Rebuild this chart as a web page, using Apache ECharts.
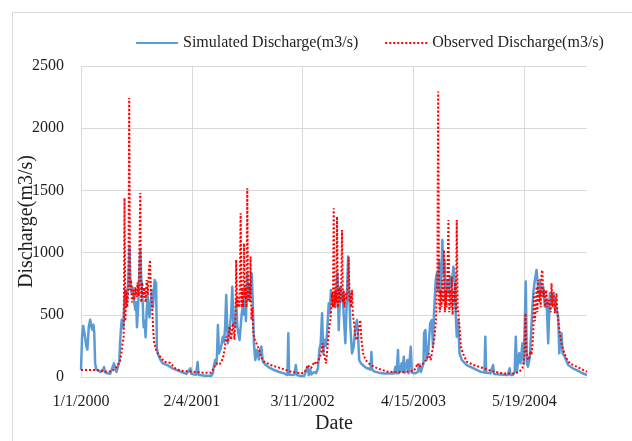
<!DOCTYPE html>
<html>
<head>
<meta charset="utf-8">
<script src="https://cdn.jsdelivr.net/npm/echarts@6/dist/echarts.min.js"></script>
<style>
html,body{margin:0;padding:0;background:#fff;}
#chart{width:632px;height:441px;}
</style>
</head>
<body>
<div id="chart"></div>
<script>
// x tick labels (every 400 days from 1/1/2000)
var xTickLabels = ['1/1/2000', '2/4/2001', '3/11/2002', '4/15/2003', '5/19/2004'];
var yTickLabels = ['0', '500', '1000', '1500', '2000', '2500'];
var seriesNames = ['Simulated Discharge(m3/s)', 'Observed Discharge(m3/s)'];

// Simulated discharge: day offset from 1/1/2000 and value (m3/s)
var simDays = [0,4,8,14,19,23,28,33,38,41,45,48,51,55,60,70,80,83,86,95,105,112,116,119,123,128,134,138,141,144,147,150,153,156,159,162,165,168,171,175,178,182,187,191,196,199,202,206,209,214,217,220,223,226,230,233,237,240,244,247,251,256,260,263,266,269,271,274,280,286,295,310,330,359,380,395,398,415,421,424,446,470,476,479,484,488,491,494,498,502,506,510,512,516,520,524,527,530,535,538,542,546,550,554,557,560,564,568,572,576,580,585,588,591,595,600,604,608,612,616,620,624,629,634,638,642,646,651,656,667,680,697,715,733,745,748,751,760,770,775,779,793,805,812,818,822,827,832,840,848,855,860,865,870,874,879,884,888,894,898,902,906,910,914,918,922,926,930,936,940,944,948,954,958,964,968,972,978,984,990,996,1000,1004,1010,1015,1025,1033,1040,1045,1048,1051,1060,1075,1093,1110,1129,1135,1139,1144,1147,1152,1157,1160,1165,1168,1178,1182,1190,1194,1205,1215,1222,1226,1236,1238,1243,1247,1253,1260,1266,1270,1274,1280,1284,1288,1292,1296,1300,1304,1308,1312,1316,1322,1328,1332,1337,1344,1348,1351,1356,1361,1366,1374,1392,1417,1441,1456,1459,1462,1477,1487,1490,1513,1540,1547,1550,1559,1565,1569,1573,1581,1586,1593,1598,1605,1609,1613,1620,1626,1632,1638,1644,1647,1651,1656,1662,1668,1674,1680,1686,1692,1698,1704,1710,1716,1722,1726,1730,1734,1738,1746,1758,1775,1789,1810,1826];
var simValues = [56,330,410,330,250,220,400,460,400,380,420,350,110,60,45,40,60,80,40,30,25,30,90,110,100,40,30,120,270,380,460,420,400,600,700,560,600,700,780,1050,780,680,720,620,540,600,400,560,750,1020,820,700,580,400,450,320,520,670,560,480,580,700,560,700,780,640,760,220,170,140,110,97,70,43,25,70,25,18,120,18,10,10,30,83,137,100,180,418,190,200,244,300,324,280,400,659,450,271,350,420,512,726,420,460,400,619,405,350,297,400,512,592,500,726,450,833,620,720,673,833,600,271,137,217,180,140,217,244,123,96,75,56,40,29,16,351,20,15,20,96,15,8,8,8,83,15,60,20,40,30,70,217,271,512,190,297,250,351,592,512,700,620,650,673,560,720,833,378,726,620,673,500,271,539,968,673,405,190,244,400,458,324,137,110,96,80,70,56,60,200,56,43,35,29,29,29,83,29,217,30,60,110,40,163,35,137,30,244,35,29,40,100,40,110,354,378,137,200,431,458,250,512,780,833,700,941,673,780,1101,833,941,619,780,673,807,726,887,807,565,324,458,190,137,96,70,43,35,324,35,29,96,25,21,16,70,16,16,40,324,43,190,110,271,110,767,110,83,163,431,673,780,860,874,673,780,673,726,565,619,271,673,592,673,619,619,485,190,300,351,190,163,96,70,56,30,16];

// Observed discharge: day offset from 1/1/2000 and value (m3/s)
var obsDays = [0,30,60,80,100,110,125,133,140,146,150,154,157,160,163,167,171,174,177,181,184,188,192,196,200,204,208,214,217,221,225,229,233,237,241,245,249,252,256,260,264,268,274,286,300,322,340,360,400,440,470,476,482,488,494,500,506,512,518,524,530,536,542,548,554,558,560,563,566,570,573,576,579,582,585,588,591,594,597,600,603,606,609,612,615,618,622,628,634,643,649,661,685,721,757,793,805,812,818,824,830,842,850,856,862,866,872,876,880,884,888,892,896,900,903,906,909,912,915,918,921,924,927,930,933,936,939,942,945,948,951,954,958,962,966,969,972,975,978,981,984,987,990,996,1002,1008,1012,1018,1027,1045,1069,1105,1141,1178,1200,1208,1214,1220,1226,1232,1238,1247,1255,1262,1267,1272,1276,1281,1286,1289,1292,1295,1298,1301,1304,1307,1310,1313,1316,1319,1322,1326,1329,1332,1335,1338,1341,1344,1347,1350,1353,1356,1359,1362,1366,1371,1378,1392,1417,1453,1489,1525,1560,1580,1593,1597,1600,1604,1607,1613,1618,1622,1626,1629,1632,1635,1638,1641,1644,1647,1650,1653,1656,1659,1662,1665,1668,1671,1675,1679,1683,1687,1692,1695,1698,1702,1706,1710,1713,1716,1719,1722,1728,1734,1740,1752,1764,1789,1813,1826];
var obsValues = [56,56,56,45,43,48,66,100,123,193,273,324,1439,450,700,560,700,2243,700,780,600,700,620,720,643,760,650,1479,600,760,640,720,600,780,660,860,941,700,595,400,273,244,200,163,123,113,70,50,43,35,35,40,83,110,123,100,123,150,217,324,280,405,300,431,300,512,941,560,640,560,700,1316,560,700,560,1075,640,720,560,1517,620,760,600,968,458,560,351,297,297,217,163,123,96,70,43,29,35,60,96,80,70,123,100,130,160,190,271,200,150,110,200,300,405,458,540,673,560,1356,560,700,600,1289,560,619,720,600,700,1182,600,700,560,680,620,720,967,600,673,560,700,500,512,405,324,297,300,458,300,190,137,96,70,43,38,43,50,70,110,80,90,100,123,137,190,137,200,271,324,458,807,2294,620,520,700,560,780,600,1021,520,700,560,780,1262,520,700,560,807,500,700,600,760,520,1262,560,500,405,244,190,123,96,70,43,29,29,38,70,110,163,512,200,137,160,210,180,250,351,673,450,560,726,520,780,600,700,560,833,860,640,700,565,700,560,620,619,520,753,560,680,512,620,673,520,458,351,271,217,150,110,83,56,43];

function zip(a, b) { return a.map(function (d, i) { return [d, b[i]]; }); }

var chart = echarts.init(document.getElementById('chart'), null, {renderer: 'canvas'});
var FONT = '"Liberation Serif", "Times New Roman", serif';
var TXT = '#1f1f1f';
chart.setOption({
  animation: false,
  backgroundColor: '#fff',
  textStyle: {fontFamily: FONT, color: TXT},
  graphic: [{
    type: 'rect', silent: true, z: -10,
    shape: {x: 12.5, y: 12.5, width: 640, height: 440},
    style: {fill: 'none', stroke: '#d9d9d9', lineWidth: 1}
  }],
  legend: {
    left: 130, top: 30,
    itemWidth: 42, itemHeight: 14, itemGap: 26,
    itemStyle: {opacity: 0},
    textStyle: {fontFamily: FONT, fontSize: 16, color: TXT},
    data: seriesNames
  },
  grid: {left: 81, right: 45, top: 66, bottom: 64, containLabel: false, outerBoundsMode: 'none'},
  xAxis: {
    type: 'value', min: 0, max: 1826, interval: 400,
    name: 'Date', nameLocation: 'middle', nameGap: 37, nameMoveOverlap: false,
    nameTextStyle: {fontFamily: FONT, fontSize: 20, color: TXT},
    axisLine: {show: true, lineStyle: {color: '#d9d9d9', width: 1}},
    axisTick: {show: false},
    axisLabel: {
      fontFamily: FONT, fontSize: 16, color: TXT, margin: 17,
      showMaxLabel: false,
      formatter: function (v) {
        var i = Math.round(v / 400);
        return (v % 400 === 0 && xTickLabels[i]) ? xTickLabels[i] : '';
      }
    },
    splitLine: {show: true, showMaxLine: false, lineStyle: {color: '#d9d9d9', width: 1}}
  },
  yAxis: {
    type: 'value', min: 0, max: 2500, interval: 500,
    name: 'Discharge(m3/s)', nameLocation: 'middle', nameGap: 44, nameMoveOverlap: false,
    nameTextStyle: {fontFamily: FONT, fontSize: 20, color: TXT},
    axisLine: {show: false},
    axisTick: {show: false},
    axisLabel: {
      fontFamily: FONT, fontSize: 16, color: TXT, margin: 17,
      formatter: function (v) { return yTickLabels[Math.round(v / 500)]; }
    },
    splitLine: {show: true, lineStyle: {color: '#d9d9d9', width: 1}}
  },
  series: [{
    name: seriesNames[0], type: 'line', symbol: 'none', z: 2,
    data: zip(simDays, simValues),
    lineStyle: {color: '#5b9bd5', width: 2.5, join: 'round'},
    itemStyle: {color: '#5b9bd5'}
  }, {
    name: seriesNames[1], type: 'line', symbol: 'none', z: 3,
    data: zip(obsDays, obsValues),
    lineStyle: {color: '#ff0000', width: 2, type: [2, 2]},
    itemStyle: {color: '#ff0000'}
  }]
});
</script>
</body>
</html>
